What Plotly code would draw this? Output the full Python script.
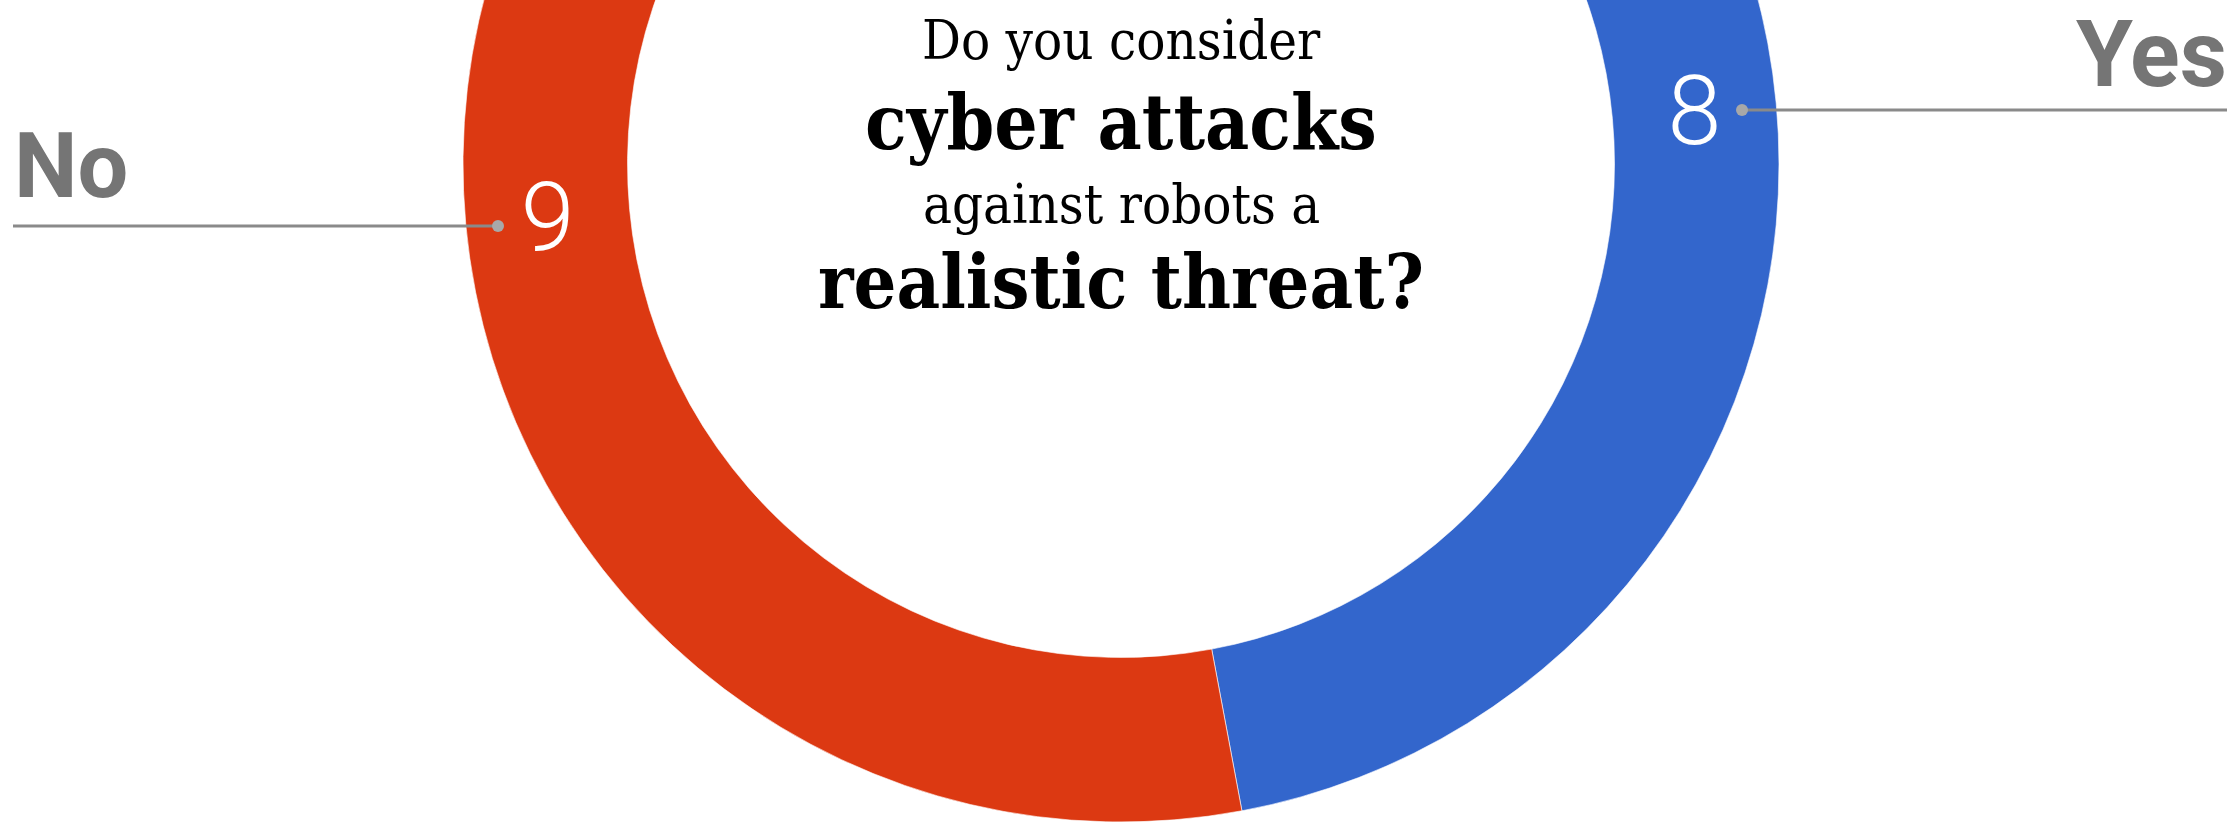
import plotly.graph_objects as go

# ---- data ----
answers = ["Yes", "No"]
counts = [8, 9]
slice_colors = ["#3366CC", "#DC3912"]
question_lines = ["Do you consider", "cyber attacks", "against robots a", "realistic threat?"]
question_bold = [False, True, False, True]

# ---- geometry (screen pixels) ----
W, VIEW_H = 2236, 823
SHIFT = 494                    # part of the figure hidden above the window
H = VIEW_H + SHIFT
CX, CY, R = 1121, 164, 658     # donut centre / outer radius on screen


def px(x, y):
    """screen pixel -> paper coordinates"""
    return x / W, 1 - (y + SHIFT) / H


fig = go.Figure()
x0, y1 = px(CX - R, CY - R)
x1, y0 = px(CX + R, CY + R)
fig.add_trace(go.Pie(
    labels=answers,
    values=counts,
    hole=0.75,
    sort=False,
    direction="clockwise",
    rotation=0,
    marker=dict(colors=slice_colors, line=dict(color="white", width=0.6)),
    texttemplate="%{value}",
    textposition="inside",
    insidetextorientation="horizontal",
    textfont=dict(family="Roboto", size=97, color="white", weight=300),
    showlegend=False,
    hoverinfo="label+value",
    domain=dict(x=[x0, x1], y=[max(0, y0), min(1, y1)]),
))

shapes = []
annotations = []
GRAY_LINE = "#8a8a8a"
GRAY_DOT = "#a8a8a8"
GRAY_TXT = "#757575"

# leader for "No"
lx0, ly = px(13, 226)
lx1, _ = px(498, 226)
shapes.append(dict(type="line", xref="paper", yref="paper", x0=lx0, x1=lx1, y0=ly, y1=ly,
                   line=dict(color=GRAY_LINE, width=3)))
# leader for "Yes"
rx0, ry = px(1742, 110)
rx1, _ = px(2227, 110)
shapes.append(dict(type="line", xref="paper", yref="paper", x0=rx0, x1=rx1, y0=ry, y1=ry,
                   line=dict(color=GRAY_LINE, width=3)))
# dots
for (dx, dy) in [(498, 226), (1742, 110)]:
    a0, b1 = px(dx - 6, dy - 6)
    a1, b0 = px(dx + 6, dy + 6)
    shapes.append(dict(type="circle", xref="paper", yref="paper", x0=a0, x1=a1, y0=b0, y1=b1,
                       fillcolor=GRAY_DOT, line=dict(width=0)))

# outer category labels
nx, ny = px(13, 166)
annotations.append(dict(text="<b>No</b>", x=nx, y=ny, xref="paper", yref="paper",
                        xanchor="left", yanchor="middle", showarrow=False, borderpad=0,
                        font=dict(family="Roboto", size=90, color=GRAY_TXT)))
yx, yy = px(2228, 54)
annotations.append(dict(text="<b>Yes</b>", x=yx, y=yy, xref="paper", yref="paper",
                        xanchor="right", yanchor="middle", showarrow=False, borderpad=0,
                        font=dict(family="Roboto", size=92, color=GRAY_TXT)))

# centre question
line_mid_y = [40, 122, 204, 282]
line_size = [54, 76, 54, 75]
for txt, bold, my, sz in zip(question_lines, question_bold, line_mid_y, line_size):
    qx, qy = px(CX, my)
    annotations.append(dict(
        text=f"<b>{txt}</b>" if bold else txt,
        x=qx, y=qy, xref="paper", yref="paper",
        xanchor="center", yanchor="middle", showarrow=False, borderpad=0,
        font=dict(family="Roboto Slab, DejaVu Serif Condensed, DejaVu Serif",
                  size=sz, color="#000000"),
    ))

fig.update_layout(
    width=W, height=H,
    margin=dict(l=0, r=0, t=0, b=0),
    paper_bgcolor="white",
    plot_bgcolor="white",
    shapes=shapes,
    annotations=annotations,
)

post = (
    "document.body.style.margin='0';"
    "document.body.style.overflow='hidden';"
    f"document.getElementById('{{plot_id}}').style.marginTop='-{SHIFT}px';"
)
fig.write_html("out.html", post_script=post)
